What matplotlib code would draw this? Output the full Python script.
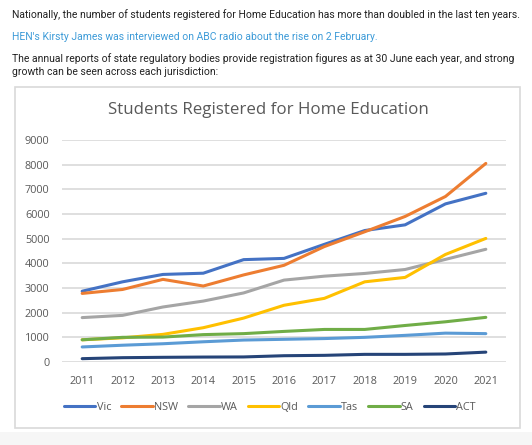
import matplotlib.pyplot as plt
from matplotlib.patches import Rectangle

# Data
years = [2011, 2012, 2013, 2014, 2015, 2016, 2017, 2018, 2019, 2020, 2021]
vic = [2870, 3250, 3550, 3600, 4150, 4200, 4770, 5330, 5560, 6410, 6840]
nsw = [2780, 2940, 3350, 3080, 3530, 3920, 4680, 5280, 5900, 6710, 8050]
wa = [1800, 1890, 2230, 2470, 2800, 3320, 3480, 3590, 3750, 4160, 4570]
qld = [900, 980, 1120, 1390, 1780, 2300, 2580, 3250, 3430, 4360, 5010]
tas = [610, 680, 740, 820, 890, 920, 950, 1000, 1080, 1170, 1150]
sa = [900, 1000, 1010, 1110, 1150, 1240, 1320, 1320, 1480, 1630, 1810]
act = [135, 175, 190, 200, 205, 255, 270, 310, 310, 325, 400]

series = [('Vic', vic, '#4472C4'), ('NSW', nsw, '#ED7D31'), ('WA', wa, '#A5A5A5'),
          ('Qld', qld, '#FFC000'), ('Tas', tas, '#5B9BD5'), ('SA', sa, '#70AD47'),
          ('ACT', act, '#264478')]

W, H = 532, 445
fig = plt.figure(figsize=(W / 100, H / 100), dpi=100)
fig.patch.set_facecolor('white')

# page text above the chart
txt = dict(family='Roboto', fontsize=7.5, va='center', ha='left')
fig.text(12 / W, 1 - 15 / H, 'Nationally, the number of students registered for Home Education '
         'has more than doubled in the last ten years.', color='#222222', **txt)
fig.text(12 / W, 1 - 37 / H, "HEN's Kirsty James was interviewed on ABC radio about the rise on 2 February.",
         color='#3d9bd8', **txt)
fig.text(12 / W, 1 - 59 / H, 'The annual reports of state regulatory bodies provide registration '
         'figures as at 30 June each year, and strong', color='#222222', **txt)
fig.text(12 / W, 1 - 72 / H, 'growth can be seen across each jurisdiction:', color='#222222', **txt)

# chart frame
fig.patches.append(Rectangle((0, 0), 1, 1 - 432 / H, transform=fig.transFigure,
                             facecolor='#f6f6f6', edgecolor='none', zorder=0))
fig.patches.append(Rectangle((15 / W, 1 - 428 / H), (520 - 15) / W, (428 - 87) / H,
                             transform=fig.transFigure, facecolor='white',
                             edgecolor='#d9d9d9', linewidth=1.2, zorder=0.5))

fig.text(268 / W, 1 - 110 / H, 'Students Registered for Home Education', family='Open Sans',
         fontsize=12.2, color='#595959', ha='center', va='center')

ax = fig.add_axes([62 / W, 1 - 362 / H, (506 - 62) / W, (362 - 140) / H])
ax.set_zorder(2)
ax.set_facecolor('none')
for name, vals, col in series:
    ax.plot(years, vals, color=col, lw=2.2, label=name, solid_capstyle='round')

ax.set_xlim(2010.5, 2021.5)
ax.set_ylim(0, 9000)
ax.set_yticks(range(0, 9001, 1000))
ax.set_xticks(years)
ax.grid(axis='y', color='#d9d9d9', lw=1.2)
ax.set_axisbelow(True)
for s in ax.spines.values():
    s.set_visible(False)
ax.tick_params(length=0, labelsize=7.8, labelcolor='#595959')
ax.tick_params(axis='x', pad=10)
ax.tick_params(axis='y', pad=9)
for lab in ax.get_xticklabels() + ax.get_yticklabels():
    lab.set_family('Open Sans')

leg = fig.legend(loc='center', bbox_to_anchor=(270 / W, 1 - 407 / H), ncol=7, frameon=False,
                 prop={'family': 'Open Sans', 'size': 7.8}, handlelength=2.9,
                 handletextpad=0.1, columnspacing=0.95, labelcolor='#595959')
leg.set_zorder(3)

fig.savefig('out.png', dpi=100)
